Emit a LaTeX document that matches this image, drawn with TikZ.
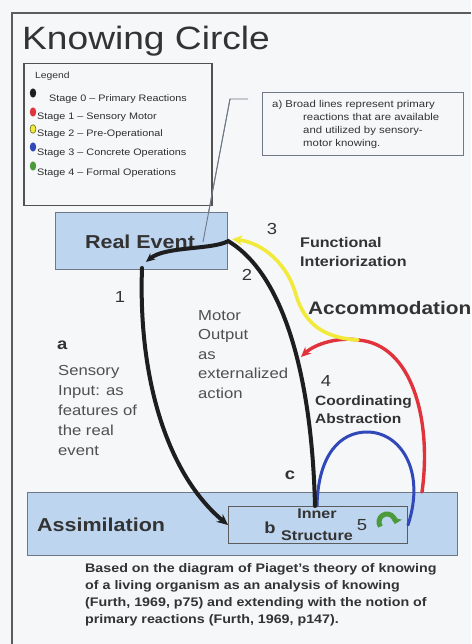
\documentclass[tikz,border=0pt]{standalone}
\usepackage{fontspec}
\setmainfont[FakeStretch=1.15]{Liberation Sans}
\usetikzlibrary{arrows.meta,calc}
\definecolor{paper}{HTML}{F6F7F9}
\definecolor{ink}{HTML}{333333}
\definecolor{softink}{HTML}{505050}
\definecolor{boxfill}{HTML}{BED5EF}
\definecolor{boxline}{HTML}{6E7886}
\definecolor{stzero}{HTML}{1E1E1E}
\definecolor{stone}{HTML}{E0333C}
\definecolor{sttwo}{HTML}{F2EA3A}
\definecolor{stthree}{HTML}{3148B8}
\definecolor{stfour}{HTML}{4C9A3C}
\newcommand\setfs[2]{\fontsize{#1}{#2}\selectfont}
\tikzset{
  lbl/.style={inner sep=0pt, text=ink},
  panel/.style={draw=boxline, line width=1.2pt, fill=boxfill, inner sep=0pt, anchor=north west},
  framebox/.style={draw=ink!85, inner sep=0pt, anchor=north west},
  blkline/.style={draw=stzero, line width=4pt, line cap=round},
  redline/.style={draw=stone, line width=3.4pt, line cap=round},
  ylwline/.style={draw=sttwo, line width=3.6pt, line cap=round},
  blueline/.style={draw=stthree, line width=3pt, line cap=round},
  legtext/.style={lbl, anchor=base west, text=ink!90!black, font=\setfs{9.4}{11}},
}
\begin{document}
\begin{tikzpicture}[x=1pt,y=-1pt]
\fill[paper] (0,0) rectangle (471,644);
\useasboundingbox (0,0) rectangle (471,644);

% outer frame (left and top edges)
\draw[ink!80, line width=2.2pt] (12,644) -- (12,13) -- (471,13);

% title
\node[lbl, anchor=base west, font=\setfs{32.3}{38}] (title) at (22,50) {Knowing Circle};

% legend
\node[framebox, line width=1.5pt, minimum width=188pt, minimum height=142pt] (legend) at (23,63) {};
\node[lbl, anchor=base west, font=\setfs{9}{11}] (leghead) at (35,78.5) {Legend};
\fill[stzero] (33,93) ellipse [x radius=3.2pt, y radius=4.6pt];
\fill[stone] (33,112) ellipse [x radius=3.2pt, y radius=4.6pt];
\filldraw[fill=sttwo, draw=olive!70!black, line width=0.6pt] (33,129) ellipse [x radius=2.9pt, y radius=4.3pt];
\fill[stthree] (33,147) ellipse [x radius=3.2pt, y radius=4.6pt];
\fill[stfour] (33,166) ellipse [x radius=3.2pt, y radius=4.6pt];
\node[legtext] (leg0) at (49,101.6) {Stage 0 -- Primary Reactions};
\node[legtext] (leg1) at (37,119.6) {Stage 1 -- Sensory Motor};
\node[legtext] (leg2) at (37,137) {Stage 2 -- Pre-Operational};
\node[legtext] (leg3) at (37,155.6) {Stage 3 -- Concrete Operations};
\node[legtext] (leg4) at (37,176) {Stage 4 -- Formal Operations};

% note box with its leader line
\node[framebox, draw=boxline, line width=0.9pt, minimum width=201pt, minimum height=63pt] (note) at (262,92) {};
\node[lbl, anchor=base west, font=\setfs{9.9}{13}] (note1) at (272,107.5) {a) Broad lines represent primary};
\node[lbl, anchor=north west, align=left, font=\setfs{9.9}{13}] (note2) at (303,113.5) {reactions that are available\\and utilized by sensory-\\motor knowing.};
\coordinate (leadA) at (248,99);
\coordinate (leadB) at (230,99);
\coordinate (leadC) at (203,242);
\draw[boxline, line width=0.9pt] (leadA) -- (leadB) -- (leadC);

% boxes
\node[panel, minimum width=172pt, minimum height=57pt] (realevent) at (55,212) {};
\node[panel, minimum width=430pt, minimum height=63pt] (assim) at (27,492) {};
\node[panel, draw=ink!80, line width=1pt, minimum width=179pt, minimum height=37pt] (inner) at (228,506) {};
\draw[boxline, line width=0.9pt] (leadB) -- (leadC);

\node[lbl, anchor=base, font=\bfseries\setfs{18.7}{22}] (retext) at (140,248.7) {Real Event};
\node[lbl, anchor=base west, font=\bfseries\setfs{18.7}{22}] (astext) at (37,531) {Assimilation};
\node[lbl, anchor=base, font=\bfseries\setfs{14}{16}] (innerA) at (317,518) {Inner};
\node[lbl, anchor=base, font=\bfseries\setfs{14}{16}] (innerB) at (317,540) {Structure};
\node[lbl, anchor=base, font=\bfseries\setfs{16}{18}] (lb) at (270,533) {b};
\node[lbl, anchor=base, font=\setfs{16}{18}] (n5) at (362,530.8) {5};

% green self-turning arrow
\coordinate (turn) at (387,522);
\draw[stfour, line width=5pt, -{Triangle[length=6pt,width=11pt]}]
  ([shift={(215:8pt)}]turn) arc[start angle=215, end angle=-15, radius=8pt];

% connection points
\coordinate (motorStart) at ($(inner.north west)+(87,0)$);
\coordinate (motorEnd) at (146,262);
\coordinate (senseStart) at (142,268);
\coordinate (acc) at (358,340);
\coordinate (redStart) at ($(assim.north west)+(395,0)$);
\coordinate (redEnd) at (301,357);
\coordinate (blueStart) at ($(inner.north west)+(89,0)$);
\coordinate (ylwEnd) at ($(realevent.east)+(4,-2)$);

% coloured loops
\draw[blueline] (blueStart) .. controls (318,455) and (340,432) .. (367,432)
  .. controls (400,432) and (426,470) .. (inner.east);
\draw[redline, -{Stealth[length=10pt,width=9pt]}] (redStart) .. controls (432,420) and (412,344) .. (acc)
  .. controls (340,337) and (316,343) .. (redEnd);
\draw[ylwline, -{Stealth[length=10pt,width=10pt]}] (acc) .. controls (325,338) and (305,325) .. (296,295)
  .. controls (288,265) and (264,243) .. (ylwEnd);

% black primary loop
\draw[blkline, -{Stealth[length=9pt,width=8pt]}] (motorStart) .. controls (312,380) and (285,275) .. (realevent.east)
  .. controls (212,250) and (165,246) .. (motorEnd);
\draw[blkline, -{Stealth[length=11pt,width=10pt]}] (senseStart) .. controls (138,380) and (168,475) .. (inner.west);

% labels around the loop
\node[lbl, anchor=base, font=\setfs{16}{18}] (n3) at (272,234.8) {3};
\node[lbl, anchor=base, font=\setfs{16}{18}] (n2) at (247,280.8) {2};
\node[lbl, anchor=base, font=\setfs{16}{18}] (n1) at (120,302.8) {1};
\node[lbl, anchor=base, font=\setfs{16}{18}] (n4) at (326,386.8) {4};
\node[lbl, anchor=base west, font=\bfseries\setfs{16}{18}] (la) at (57,349) {a};
\node[lbl, anchor=base, font=\bfseries\setfs{16}{18}] (lc) at (290,479) {c};
\node[lbl, anchor=north west, align=left, font=\bfseries\setfs{14}{19}] (funct) at (300,237) {Functional\\Interiorization};
\node[lbl, anchor=base west, font=\bfseries\setfs{18.1}{22}] (accom) at (308,314.5) {Accommodation};
\node[lbl, anchor=north west, align=left, text=softink, font=\setfs{14.5}{19.5}] (motor) at (198,310) {Motor\\Output\\as\\externalized\\action};
\node[lbl, anchor=north west, align=left, text=softink, font=\setfs{14.5}{20}] (sensory) at (58,365) {Sensory\\Input: as\\features of\\the real\\event};
\node[lbl, anchor=north west, align=left, font=\bfseries\setfs{13.5}{17.5}] (coord) at (315,396) {Coordinating\\Abstraction};

% caption
\node[lbl, anchor=north west, align=left, font=\bfseries\setfs{12.4}{17}] (caption) at (85,563.5)
  {Based on the diagram of Piaget's theory of knowing\\of a living organism as an analysis of knowing\\(Furth, 1969, p75) and extending with the notion of\\primary reactions (Furth, 1969, p147).};
\end{tikzpicture}
\end{document}
